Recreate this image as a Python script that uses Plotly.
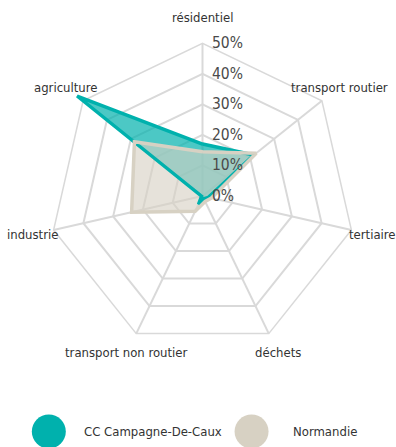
import math
import plotly.graph_objects as go

# Sectors of the radar, clockwise from the top
categories = ["résidentiel", "transport routier", "tertiaire", "déchets",
              "transport non routier", "industrie", "agriculture"]

# Share of emissions per sector (%)
series_names = ["CC Campagne-De-Caux", "Normandie"]
campagne_de_caux = [17, 21.5, 2, 1, 3, 0.3, 52.5]
normandie = [14.5, 22.5, 3, 2, 5.5, 23.8, 28.5]

radial_ticks = [0, 10, 20, 30, 40, 50]
radial_ticktext = [f"{v}%" for v in radial_ticks]
R_MAX = 50          # outer ring of the grid
R_DATA_MAX = 55     # room for values above the outer ring

TEAL = "#00B1AD"
BEIGE = "#D7D1C3"
GRID = "#D9D9D9"
TEXT = "#333333"
FONT = "Liberation Sans Narrow, DejaVu Sans Condensed, Roboto Condensed, Arial Narrow, sans-serif"

# Geometry in pixels: centre of the radar and radius of the outer ring
W, H = 396, 447
CX, CY, R_PX = 202.5, 196.0, 153.0
HALF = R_PX * R_DATA_MAX / R_MAX
LEFT, TOP = CX - HALF, CY - HALF
SIDE = 2 * HALF


def px_x(x):
    return (x - LEFT) / SIDE


def px_y(y):
    return (TOP + SIDE - y) / SIDE


def closed(values):
    return values + values[:1]


theta = closed(categories)
inner = 0.5 * R_MAX / R_DATA_MAX

fig = go.Figure()

# Empty trace so the grid subplot is drawn
fig.add_trace(go.Scatterpolar(
    r=[0], theta=[categories[0]], mode="markers", marker=dict(opacity=0),
    subplot="polar", showlegend=False, hoverinfo="skip"))

# Data live on an overlaid, axis-less polar so the tip above 50 % is not clipped.
# Filled areas first, then outlines on top.
fig.add_trace(go.Scatterpolar(
    r=closed(campagne_de_caux), theta=theta, mode="none", fill="toself",
    fillcolor="rgba(0,177,173,0.7)", subplot="polar2", showlegend=False,
    hoverinfo="skip"))
fig.add_trace(go.Scatterpolar(
    r=closed(normandie), theta=theta, mode="none", fill="toself",
    fillcolor="rgba(215,209,195,0.62)", subplot="polar2", showlegend=False,
    hoverinfo="skip"))
fig.add_trace(go.Scatterpolar(
    r=closed(campagne_de_caux), theta=theta, mode="lines",
    line=dict(color=TEAL, width=3.5), subplot="polar2",
    name=series_names[0], showlegend=False))
fig.add_trace(go.Scatterpolar(
    r=closed(normandie), theta=theta, mode="lines",
    line=dict(color=BEIGE, width=3.5), subplot="polar2",
    name=series_names[1], showlegend=False))

angular_common = dict(direction="clockwise", rotation=90,
                      categoryorder="array", categoryarray=categories)

fig.update_layout(
    width=W, height=H,
    margin=dict(l=LEFT, r=W - LEFT - SIDE, t=TOP, b=H - TOP - SIDE),
    paper_bgcolor="white",
    plot_bgcolor="white",
    font=dict(family=FONT, color=TEXT),
    polar=dict(
        bgcolor="white",
        gridshape="linear",
        domain=dict(x=[0.5 - inner, 0.5 + inner], y=[0.5 - inner, 0.5 + inner]),
        angularaxis=dict(
            **angular_common,
            showline=True, linecolor=GRID, linewidth=1.5,
            gridcolor=GRID, gridwidth=1.5, ticks="",
            showticklabels=False,
        ),
        radialaxis=dict(
            range=[0, R_MAX], angle=90,
            tickvals=radial_ticks, showticklabels=False,
            showline=False, ticks="",
            gridcolor=GRID, gridwidth=1.5,
        ),
    ),
    polar2=dict(
        bgcolor="rgba(0,0,0,0)",
        gridshape="linear",
        domain=dict(x=[0, 1], y=[0, 1]),
        angularaxis=dict(**angular_common, visible=False),
        radialaxis=dict(range=[0, R_DATA_MAX], visible=False),
    ),
)

# Radial tick labels, just right of the vertical axis
for v, label in zip(radial_ticks, radial_ticktext):
    fig.add_annotation(
        x=px_x(CX + 7), y=px_y(CY - v / R_MAX * R_PX),
        xref="paper", yref="paper", text=label, showarrow=False,
        xanchor="left", yanchor="middle",
        font=dict(family=FONT, size=15.5, color="#4A4A4A"))

# Sector names placed just outside each vertex of the outer ring
for i, name in enumerate(categories):
    a = math.radians(90 - i * 360 / len(categories))
    dist = 174 + 5 * max(0.0, math.sin(a)) ** 4
    fig.add_annotation(
        x=px_x(CX + dist * math.cos(a)), y=px_y(CY - dist * math.sin(a)),
        xref="paper", yref="paper", text=name, showarrow=False,
        xanchor="center", yanchor="middle",
        font=dict(family=FONT, size=13, color=TEXT))

# Legend: large round swatches with labels underneath the chart
legend_items = [
    (series_names[0], TEAL, 49, 83),
    (series_names[1], BEIGE, 251.5, 292),
]
for name, color, cx, tx in legend_items:
    fig.add_shape(
        type="circle", xref="paper", yref="paper",
        xsizemode="pixel", ysizemode="pixel",
        xanchor=px_x(cx), yanchor=px_y(432),
        x0=-17, x1=17, y0=-17, y1=17,
        fillcolor=color, line=dict(width=0))
    fig.add_annotation(
        x=px_x(tx), y=px_y(432), xref="paper", yref="paper",
        text=name, showarrow=False, xanchor="left", yanchor="middle",
        xshift=-1,
        font=dict(family=FONT, size=13, color=TEXT))

fig.write_html("out.html")
